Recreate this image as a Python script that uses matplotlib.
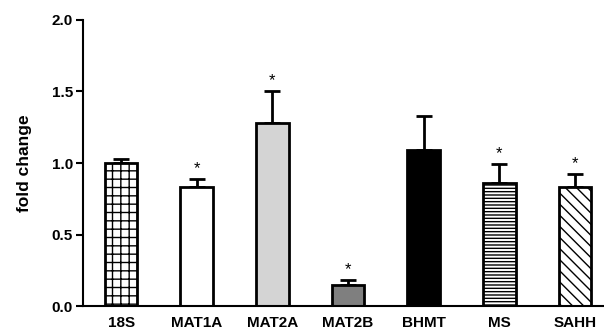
import matplotlib
matplotlib.use("Agg")
import matplotlib.pyplot as plt
import numpy as np

plt.rcParams['font.family'] = ['Liberation Sans', 'DejaVu Sans']
plt.rcParams['hatch.linewidth'] = 1.0

# data
genes = ["18S", "MAT1A", "MAT2A", "MAT2B", "BHMT", "MS", "SAHH"]
fold = [1.00, 0.83, 1.28, 0.15, 1.09, 0.86, 0.83]
sem = [0.03, 0.06, 0.22, 0.03, 0.24, 0.13, 0.09]
signif = [False, True, True, True, False, True, True]

colores = ["white", "white", "#d4d4d4", "#7f7f7f", "black", "white", "white"]
hatches = ["++", "", "", "", "", "-----", "\\\\\\"]

fig = plt.figure(figsize=(6.04, 3.32), dpi=100)
ax = fig.add_axes([0.137, 0.078, 0.87, 0.862])

x = np.arange(len(genes))
bars = ax.bar(x, fold, width=0.43, color=colores, edgecolor="black", linewidth=2, zorder=2)
for b, h in zip(bars, hatches):
    b.set_hatch(h)

ax.errorbar(x, fold, yerr=[np.zeros(len(sem)), sem], fmt="none", ecolor="black",
            elinewidth=2, capsize=6, capthick=2, zorder=1)

for xi, f, s, sig in zip(x, fold, sem, signif):
    if sig:
        ax.text(xi, f + s + 0.02, "*", ha="center", va="bottom", fontsize=12)

ax.set_ylim(0, 2.0)
ax.set_xlim(-0.507, 6.44)
ax.set_yticks([0, 0.5, 1.0, 1.5, 2.0])
ax.set_yticklabels(["0.0", "0.5", "1.0", "1.5", "2.0"])
ax.set_xticks(x)
ax.set_xticklabels(genes)
for lab in ax.get_xticklabels():
    lab.set_fontweight("bold")
    lab.set_fontsize(11)
for lab in ax.get_yticklabels():
    lab.set_fontweight("bold")
    lab.set_fontsize(11)
ax.tick_params(axis="x", length=0, pad=7)
ax.tick_params(axis="y", width=1.5, length=5, pad=2)
ax.set_ylabel("fold change", fontsize=12.5, fontweight="bold", labelpad=14)

ax.spines["top"].set_visible(False)
ax.spines["right"].set_visible(False)
ax.spines["left"].set_linewidth(1.5)
ax.spines["bottom"].set_linewidth(1.5)

fig.savefig("out.png", dpi=100)
